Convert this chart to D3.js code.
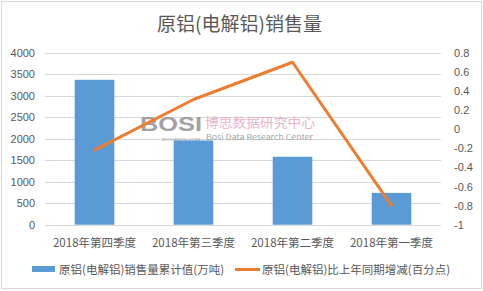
<!DOCTYPE html>
<html><head><meta charset="utf-8">
<script src="https://cdn.jsdelivr.net/npm/d3@7"></script>
<style>body{margin:0;background:#fff;}svg{display:block;font-family:"Noto Sans CJK SC","Noto Sans",sans-serif;}</style>
</head><body>
<script>
const categories = ["2018年第四季度","2018年第三季度","2018年第二季度","2018年第一季度"];
const salesValues = [3370, 1960, 1580, 740];
const changeValues = [-0.22, 0.31, 0.70, -0.80];
const leftTicks = [0,500,1000,1500,2000,2500,3000,3500,4000];
const rightTicks = [-1,-0.8,-0.6,-0.4,-0.2,0,0.2,0.4,0.6,0.8];
const title = "原铝(电解铝)销售量";
const seriesNames = ["原铝(电解铝)销售量累计值(万吨)","原铝(电解铝)比上年同期增减(百分点)"];

(function(){
const W=483,H=291;
const svg=d3.select("body").append("svg").attr("width",W).attr("height",H);
svg.append("rect").attr("x",1.5).attr("y",1.5).attr("width",W-3).attr("height",H-4).attr("fill","#fff").attr("stroke","#d9d9d9");

const pL=45,pR=441,pT=52.7,pB=224.7;
const x=d3.scaleBand().domain(categories).range([pL,pR]).paddingInner(0.6).paddingOuter(0.3);
const y=d3.scaleLinear().domain([0,4000]).range([pB,pT]);
const y2=d3.scaleLinear().domain([-1,0.8]).range([pB,pT]);

svg.append("text").attr("x",W/2-2).attr("y",31).attr("text-anchor","middle").attr("font-size",19).attr("fill","#595959").text(title);

// grid
svg.append("g").selectAll("line").data(leftTicks).join("line")
 .attr("x1",pL).attr("x2",pR).attr("y1",d=>Math.round(y(d))+0.5).attr("y2",d=>Math.round(y(d))+0.5)
 .attr("stroke","#d9d9d9").attr("stroke-width",1);

const axL=svg.append("g").attr("transform",`translate(${pL-10},0)`).call(d3.axisLeft(y).tickValues(leftTicks).tickFormat(d=>String(d)).tickSize(0).tickPadding(0));
axL.select(".domain").remove();
axL.selectAll("text").attr("font-size",11).attr("fill","#595959").attr("font-family","'Liberation Sans',sans-serif");

const axR=svg.append("g").attr("transform",`translate(${pR+13},0)`).call(d3.axisRight(y2).tickValues(rightTicks).tickFormat(d=>String(Math.round(d*10)/10)).tickSize(0).tickPadding(0));
axR.select(".domain").remove();
axR.selectAll("text").attr("font-size",11).attr("fill","#595959").attr("font-family","'Liberation Sans',sans-serif");

// watermark
const wm=svg.append("g").attr("opacity",0.8);
wm.append("text").attr("x",140).attr("y",131).attr("font-size",20).attr("font-weight","bold").attr("fill","#8c8c8c").attr("font-family","'Liberation Sans',sans-serif").attr("textLength",62).attr("lengthAdjust","spacingAndGlyphs").text("BOSI");
wm.append("text").attr("x",162).attr("y",140.5).attr("font-size",3.5).attr("fill","#8c8c8c").attr("textLength",38).attr("lengthAdjust","spacingAndGlyphs").text("BOSIDATA.COM");
wm.append("text").attr("x",205).attr("y",127).attr("font-size",13).attr("fill","#e7a3bd").attr("textLength",110).attr("lengthAdjust","spacingAndGlyphs").text("博思数据研究中心");
wm.append("text").attr("x",206).attr("y",140).attr("font-size",7.5).attr("fill","#8c8c8c").attr("textLength",107).attr("lengthAdjust","spacingAndGlyphs").text("Bosi Data Research Center");

// bars
svg.append("g").selectAll("rect").data(salesValues).join("rect")
 .attr("x",(d,i)=>x(categories[i])).attr("width",x.bandwidth())
 .attr("y",d=>y(d)).attr("height",d=>pB-y(d)).attr("fill","#5B9BD5");

// line
const line=d3.line().x((d,i)=>x(categories[i])+x.bandwidth()/2).y(d=>y2(d));
svg.append("path").datum(changeValues).attr("d",line).attr("fill","none").attr("stroke","#ED7D31").attr("stroke-width",3).attr("stroke-linejoin","round").attr("stroke-linecap","round");

// category labels
svg.append("g").selectAll("text").data(categories).join("text")
 .attr("x",d=>x(d)+x.bandwidth()/2).attr("y",247).attr("text-anchor","middle").attr("font-size",11.5).attr("fill","#595959").text(d=>d);

// legend
svg.append("rect").attr("x",32).attr("y",266).attr("width",23).attr("height",6).attr("fill","#5B9BD5");
svg.append("text").attr("x",59).attr("y",273.5).attr("font-size",11.5).attr("fill","#595959").text(seriesNames[0]);
svg.append("line").attr("x1",235).attr("x2",260).attr("y1",269.5).attr("y2",269.5).attr("stroke","#ED7D31").attr("stroke-width",3);
svg.append("text").attr("x",262).attr("y",273.5).attr("font-size",11.5).attr("fill","#595959").text(seriesNames[1]);
})();
</script>
</body></html>
